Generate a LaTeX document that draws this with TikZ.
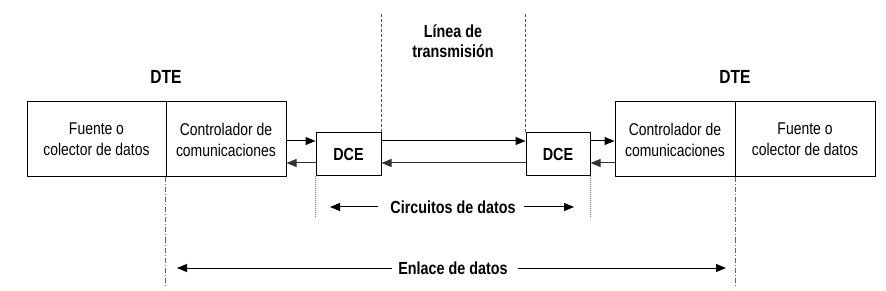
\documentclass[tikz,border=0pt]{standalone}
\usepackage{fontspec}
\setmainfont{Liberation Sans}[FakeStretch=0.82]
\usetikzlibrary{arrows.meta,calc}
\begin{document}
\begin{tikzpicture}[x=1pt,y=-1pt,
  box/.style={draw,line width=1pt,inner sep=0pt,align=center,font=\fontsize{17}{21}\selectfont},
  dcebox/.style={draw,line width=1pt,inner sep=0pt,minimum height=43pt,font=\fontsize{17.5}{21}\selectfont\bfseries},
  lbl/.style={inner sep=0pt,align=center,font=\fontsize{17.5}{20}\selectfont\bfseries},
  arr/.style={line width=1pt,-{Triangle[length=10pt,width=8pt]}},
  arrg/.style={arr,draw=black!80},
  dimarr/.style={line width=1pt,-{Triangle[length=10pt,width=8pt]}},
  dashline/.style={draw=black!65,line width=0.7pt,dash pattern=on 3pt off 2pt},
  dotline/.style={draw=black!50,line width=0.5pt,dash pattern=on 1pt off 1pt},
  dashdot/.style={draw=black!60,line width=0.8pt,dash pattern=on 5pt off 2pt on 1pt off 2pt}]
\useasboundingbox (0,0) rectangle (886,291);
% DTE boxes
\node[box,minimum width=139pt,minimum height=75pt] (f1) at (96.5,139.5) {Fuente o\\colector de datos};
\node[box,minimum width=120pt,minimum height=75pt] (c1) at (226,139.5) {Controlador de\\comunicaciones};
\node[box,minimum width=120pt,minimum height=75pt] (c2) at (675,139.5) {Controlador de\\comunicaciones};
\node[box,minimum width=140pt,minimum height=75pt] (f2) at (805,139.5) {Fuente o\\colector de datos};
% DCE boxes
\node[dcebox,minimum width=65pt] (d1) at (348.5,154.5) {DCE};
\node[dcebox,minimum width=64pt] (d2) at (558,154.5) {DCE};
% titles
\node[lbl,font=\fontsize{19}{21}\selectfont\bfseries] (t1) at (166,77) {DTE};
\node[lbl,font=\fontsize{19}{21}\selectfont\bfseries] (t2) at (735,77) {DTE};
\node[lbl] (lin) at (453,41) {Línea de\\transmisión};
% horizontal arrows
\coordinate (u1) at ([yshift=13.5pt]d1.west);
\coordinate (l1) at ([yshift=-8.5pt]d1.west);
\coordinate (u1e) at ([yshift=13.5pt]d1.east);
\coordinate (l1e) at ([yshift=-8.5pt]d1.east);
\coordinate (u2) at ([yshift=13.5pt]d2.west);
\coordinate (l2) at ([yshift=-8.5pt]d2.west);
\coordinate (u2e) at ([yshift=13.5pt]d2.east);
\coordinate (l2e) at ([yshift=-8.5pt]d2.east);
\draw[arr] (c1.east |- u1) -- (u1);
\draw[arrg] (l1) -- (c1.east |- l1);
\draw[arr] (u1e) -- (u2);
\draw[arrg] (l2) -- (l1e);
\draw[arr] (u2e) -- (c2.west |- u2e);
\draw[arrg] (c2.west |- l2e) -- (l2e);
% vertical guide lines
\draw[dashline] (d1.north east) -- ++(0,-119);
\draw[dashline] (d2.north west) -- ++(0,-119);
\draw[dotline] (d1.south west) -- ++(0,42);
\draw[dotline] (d2.south east) -- ++(0,42);
\draw[dashdot] (c1.south west) -- ++(0,110);
\draw[dashdot] (c2.south east) -- ++(0,110);
% dimension labels
\node[lbl] (circ) at (453,207) {Circuitos de datos};
\node[lbl] (enl) at (453,268) {Enlace de datos};
\coordinate (ca) at (330,207);
\coordinate (cb) at (574,207);
\coordinate (ea) at (177,268);
\coordinate (eb) at (726,268);
\draw[dimarr] ([xshift=-12pt]circ.west) -- (ca);
\draw[dimarr] ([xshift=8pt]circ.east) -- (cb);
\draw[dimarr] ([xshift=-6pt]enl.west) -- (ea);
\draw[dimarr] ([xshift=10pt]enl.east) -- (eb);
\end{tikzpicture}
\end{document}
